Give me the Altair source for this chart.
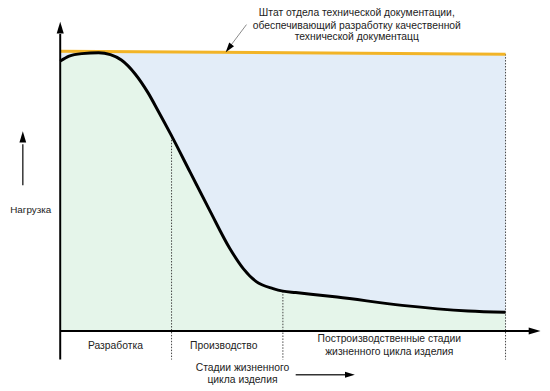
import altair as alt
import pandas as pd

# ---------------- data ----------------
curve_t = [0.0, 0.08, 0.195, 0.345, 0.451, 0.549, 0.673, 0.788, 0.876, 0.991, 1.168, 1.345,
           1.522, 1.646, 1.761, 1.912, 2.0, 2.115, 2.487, 3.071, 3.664, 4.0]
curve_v = [96.8, 98.6, 99.5, 99.8, 99.1, 97.2, 92.2, 85.5, 79.2, 70.7, 56.9, 43.1,
           29.7, 22.3, 17.7, 15.2, 14.3, 13.8, 12.2, 9.2, 7.2, 6.7]
staff_t = [0.0, 4.0]
staff_v = [100.35, 99.3]
stage_bounds = [1.0, 2.0, 4.0]
stage_tops = [70.7, 14.3, 99.3]
stage_names = ["Разработка", "Производство"]
stage_label_t = [0.496, 1.469]
post_lines = ["Построизводственные стадии", "жизненного цикла изделия"]
post_t = 2.956
post_v = [-2.8, -7.7]
note_lines = ["Штат отдела технической документации,",
              "обеспечивающий разработку качественной",
              "технической документацц"]
note_t = 2.664
note_v = [114.0, 109.5, 105.3]
xlab_lines = ["Стадии жизненного", "цикла изделия"]
xlab_t = 1.637
xlab_v = [-13.4, -17.7]
ylab = "Нагрузка"
ylab_t = -0.265
ylab_v = 43.5

# ---------------- scales ----------------
X_DOM = [-53 / 113, (542 - 53) / 113]
Y_DOM = [(333 - 391) / 2.83, 325 / 2.83]


def X(field="t"):
    return alt.X(f"{field}:Q", scale=alt.Scale(domain=X_DOM, nice=False, zero=False), axis=None)


def Y(field="v"):
    return alt.Y(f"{field}:Q", scale=alt.Scale(domain=Y_DOM, nice=False, zero=False), axis=None)


FONT = "Liberation Sans"
TXT = "#222222"
ARROW = "M0,-1L0.6,1L-0.6,1Z"

curve_df = pd.DataFrame({"t": curve_t, "v": curve_v, "z": 0})
staff_df = pd.DataFrame({"t": staff_t, "v": staff_v, "z": 0})

blue = alt.Chart(staff_df).mark_area(color="#e3edf8", opacity=1).encode(
    x=X(), y=Y(), y2=alt.Y2("z"))
green = alt.Chart(curve_df).mark_area(color="#e5f5ea", opacity=1, interpolate="monotone").encode(
    x=X(), y=Y(), y2=alt.Y2("z"))

dots_df = pd.DataFrame({"t": stage_bounds, "top": stage_tops, "bot": [-10.25] * 3})
dots = alt.Chart(dots_df).mark_rule(color="#444444", strokeWidth=1, strokeDash=[1.5, 1.5]).encode(
    x=X(), y=Y("top"), y2=alt.Y2("bot"))

staff = alt.Chart(staff_df).mark_line(color="#f2b427", strokeWidth=3).encode(x=X(), y=Y())
curve = alt.Chart(curve_df).mark_line(color="#000000", strokeWidth=3, interpolate="monotone").encode(
    x=X(), y=Y())

# axes
yaxis = alt.Chart(pd.DataFrame({"t": [0.0], "v": [-10.25], "v2": [106.5]})).mark_rule(
    color="#000000", strokeWidth=2).encode(x=X(), y=Y(), y2=alt.Y2("v2"))
xaxis = alt.Chart(pd.DataFrame({"t": [0.0], "t2": [4.24], "v": [0.0]})).mark_rule(
    color="#000000", strokeWidth=2).encode(x=X(), x2=alt.X2("t2"), y=Y())

heads_df = pd.DataFrame({
    "t": [0.0, 4.261, -0.336, 2.602, 1.513],
    "v": [108.8, 0.0, 69.6, -15.7, 101.4],
    "ang": [0, 90, 0, 90, 216.9],
    "sz": [144, 144, 130, 100, 100],
})
heads = alt.Chart(heads_df).mark_point(shape=ARROW, filled=True, color="#000000", opacity=1).encode(
    x=X(), y=Y(), angle=alt.Angle("ang:Q", scale=None), size=alt.Size("sz:Q", scale=None))

small_df = pd.DataFrame({"t": [-0.336, 2.115], "t2": [-0.336, 2.56],
                         "v": [52.3, -15.7], "v2": [67.0, -15.7]})
small = alt.Chart(small_df).mark_rule(color="#333333", strokeWidth=1.5).encode(
    x=X(), x2=alt.X2("t2"), y=Y(), y2=alt.Y2("v2"))
note_arrow = alt.Chart(pd.DataFrame({"t": [1.673], "t2": [1.52], "v": [109.9], "v2": [101.8]})).mark_rule(
    color="#888888", strokeWidth=1).encode(x=X(), x2=alt.X2("t2"), y=Y(), y2=alt.Y2("v2"))

# texts
txt_df = pd.DataFrame({
    "t": stage_label_t + [post_t] * 2 + [note_t] * 3 + [xlab_t] * 2,
    "v": [-5.3, -5.3] + post_v + note_v + xlab_v,
    "s": stage_names + post_lines + note_lines + xlab_lines,
})
texts = alt.Chart(txt_df).mark_text(font=FONT, fontSize=10.5, color=TXT, align="center",
                                    baseline="middle").encode(x=X(), y=Y(), text="s:N")
ytext = alt.Chart(pd.DataFrame({"t": [ylab_t], "v": [ylab_v], "s": [ylab]})).mark_text(
    font=FONT, fontSize=10, color=TXT, align="center", baseline="middle").encode(
    x=X(), y=Y(), text="s:N")

chart = alt.layer(blue, green, dots, staff, curve, yaxis, xaxis, small, note_arrow, heads, texts,
                  ytext).properties(
    width=542, height=383, autosize=alt.AutoSizeParams(type="none"), padding=0
).configure_view(strokeWidth=0)

chart.save("out.html", embed_options={"renderer": "svg", "actions": False})
